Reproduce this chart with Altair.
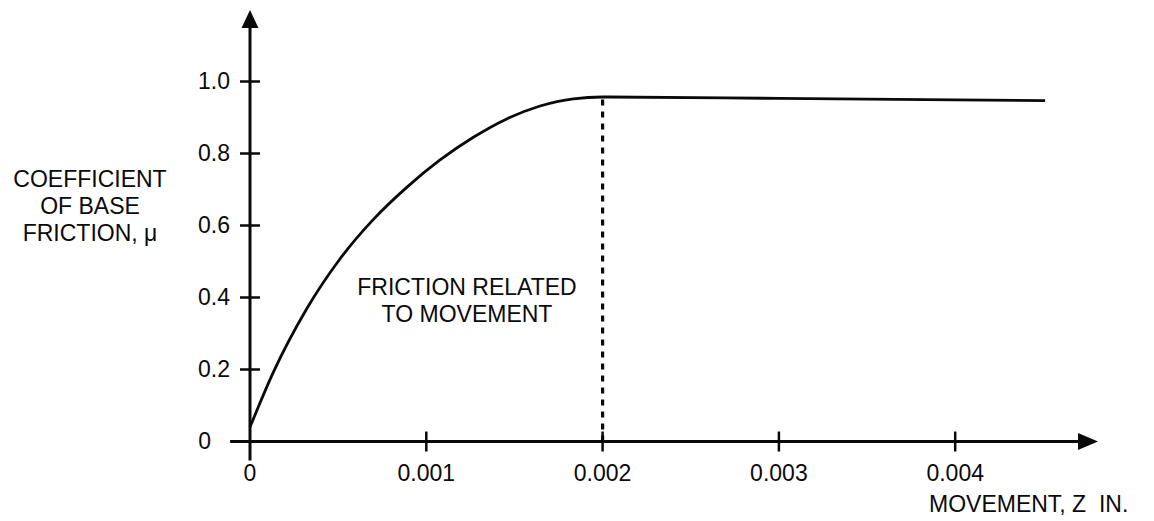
import altair as alt
import pandas as pd

# Coefficient of base friction versus base movement (inches)
movement = [0.0, 0.000132, 0.000321, 0.000510, 0.000700, 0.000889, 0.001078,
            0.001267, 0.001456, 0.001645, 0.001834, 0.002000, 0.003000,
            0.004000, 0.004510]
friction = [0.04, 0.192, 0.368, 0.507, 0.617, 0.706, 0.782,
            0.845, 0.896, 0.932, 0.952, 0.957, 0.953,
            0.949, 0.947]

# Movement at which friction is fully mobilised
full_mobilisation = 0.002

x_ticks = [0.0, 0.001, 0.002, 0.003, 0.004]
x_tick_labels = ["0", "0.001", "0.002", "0.003", "0.004"]
y_ticks = [0.0, 0.2, 0.4, 0.6, 0.8, 1.0]
y_tick_labels = ["0", "0.2", "0.4", "0.6", "0.8", "1.0"]

FONT = "Liberation Sans"
FS = 23
INK = "#0a0a0a"

xs = alt.Scale(domain=[0, 0.004], nice=False, zero=False)
ys = alt.Scale(domain=[0, 1], nice=False, zero=False)


def xd(v):
    return alt.XDatum(v, type="quantitative", scale=xs, axis=None)


def yd(v):
    return alt.YDatum(v, type="quantitative", scale=ys, axis=None)


one = pd.DataFrame({"k": [0]})
curve_df = pd.DataFrame({"movement": movement, "friction": friction})
xt_df = pd.DataFrame({"tick": x_ticks, "label": x_tick_labels})
yt_df = pd.DataFrame({"tick": y_ticks, "label": y_tick_labels})

peak = friction[movement.index(full_mobilisation)]

# axis lines (with overshoot past the origin)
x_axis = alt.Chart(one).mark_rule(color=INK, strokeWidth=2.8).encode(
    x=xd(-0.000113), x2=alt.X2Datum(0.00470), y=yd(0))
y_axis = alt.Chart(one).mark_rule(color=INK, strokeWidth=3).encode(
    x=xd(0), y=yd(-0.053), y2=alt.Y2Datum(1.152))

# arrow heads
x_arrow = alt.Chart(one).mark_point(
    shape="M1,0L0,0.43L0,-0.43Z", size=1600, filled=True, opacity=1,
    color=INK, strokeWidth=0).encode(x=xd(0.0046966), y=yd(0))
y_arrow = alt.Chart(one).mark_point(
    shape="M0,-1L0.47,0L-0.47,0Z", size=1296, filled=True, opacity=1,
    color=INK, strokeWidth=0).encode(x=xd(0), y=yd(1.1486))

# crossing tick marks
x_tick_marks = alt.Chart(xt_df).transform_filter("datum.tick > 0").mark_tick(
    orient="vertical", size=20, thickness=2.5, color=INK, opacity=1).encode(
    x=alt.X("tick:Q", scale=xs, axis=None), y=yd(0))
y_tick_marks = alt.Chart(yt_df).transform_filter("datum.tick > 0").mark_tick(
    orient="horizontal", size=20, thickness=2.5, color=INK, opacity=1).encode(
    x=xd(0), y=alt.Y("tick:Q", scale=ys, axis=None))

# tick labels
x_labels = alt.Chart(xt_df).mark_text(
    font=FONT, fontSize=FS, color=INK, align="center", baseline="middle", dy=32.5).encode(
    x=alt.X("tick:Q", scale=xs, axis=None), y=yd(0), text="label:N")
y_labels = alt.Chart(yt_df).transform_filter("datum.tick > 0").mark_text(
    font=FONT, fontSize=FS, color=INK, align="right", baseline="middle", dx=-20).encode(
    x=xd(0), y=alt.Y("tick:Q", scale=ys, axis=None), text="label:N")
y_zero_label = alt.Chart(yt_df).transform_filter("datum.tick == 0").mark_text(
    font=FONT, fontSize=FS, color=INK, align="right", baseline="middle", dx=-39).encode(
    x=xd(0), y=alt.Y("tick:Q", scale=ys, axis=None), text="label:N")

# friction curve
curve = alt.Chart(curve_df).mark_line(
    color=INK, strokeWidth=2.8, interpolate="monotone").encode(
    x=alt.X("movement:Q", scale=xs, axis=None),
    y=alt.Y("friction:Q", scale=ys, axis=None))

# dashed line at full mobilisation
dash = alt.Chart(one).mark_rule(
    color=INK, strokeWidth=3.2, strokeDash=[6, 6]).encode(
    x=xd(full_mobilisation), y=yd(0), y2=alt.Y2Datum(peak))

# titles and annotation
y_title = alt.Chart(one).mark_text(
    text=["COEFFICIENT", "OF BASE", "FRICTION, \u03bc"], font=FONT, fontSize=FS,
    color=INK, align="center", baseline="middle", lineHeight=27).encode(
    x=alt.value(-160), y=alt.value(98.5))
x_title = alt.Chart(one).mark_text(
    text="MOVEMENT, Z\u00a0 IN.", font=FONT, fontSize=FS, color=INK,
    align="left", baseline="middle").encode(
    x=alt.value(679), y=alt.value(423.5))
note = alt.Chart(one).mark_text(
    text=["FRICTION RELATED", "TO MOVEMENT"], font=FONT, fontSize=FS, color=INK,
    align="center", baseline="middle", lineHeight=26.7).encode(
    x=alt.value(217), y=alt.value(206.8))

chart = alt.layer(
    x_axis, y_axis, x_arrow, y_arrow, x_tick_marks, y_tick_marks,
    dash, curve, x_labels, y_labels, y_zero_label, y_title, x_title, note,
).properties(
    width=705.2, height=360,
    autosize=alt.AutoSizeParams(type="none"),
    padding={"left": 250, "top": 81.5, "right": 198.8, "bottom": 79.5},
    background="white",
).configure_view(stroke=None)

chart.save("out.html", embed_options={"renderer": "svg", "actions": False})
